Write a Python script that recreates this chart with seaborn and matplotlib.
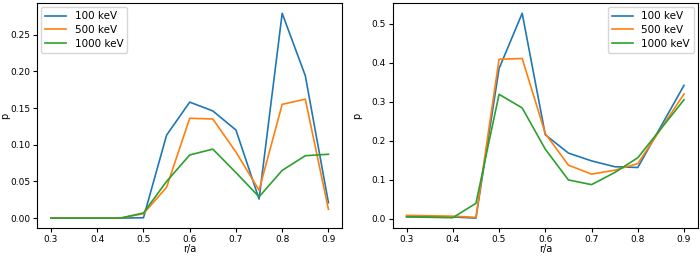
import numpy as np
import pandas as pd
import matplotlib
matplotlib.use('Agg')
import matplotlib.pyplot as plt
import seaborn as sns

energies = ['100 keV', '500 keV', '1000 keV']

# left panel
r_left = [0.3, 0.35, 0.4, 0.45, 0.5, 0.55, 0.6, 0.65, 0.7, 0.75, 0.8, 0.85, 0.9]
p_left_100 = [0.0, 0.0, 0.0, 0.0, 0.0005, 0.113, 0.158, 0.146, 0.120, 0.026, 0.279, 0.194, 0.021]
p_left_500 = [0.0, 0.0, 0.0, 0.0, 0.006, 0.042, 0.136, 0.135, 0.090, 0.038, 0.155, 0.162, 0.012]
p_left_1000 = [0.0, 0.0, 0.0, 0.0, 0.007, 0.050, 0.086, 0.094, 0.062, 0.029, 0.065, 0.085, 0.087]

# right panel
r_right = [0.3, 0.4, 0.45, 0.5, 0.55, 0.6, 0.65, 0.7, 0.75, 0.8, 0.9]
p_right_100 = [0.005, 0.004, 0.001, 0.385, 0.527, 0.215, 0.168, 0.148, 0.133, 0.131, 0.342]
p_right_500 = [0.008, 0.006, 0.003, 0.409, 0.411, 0.218, 0.137, 0.114, 0.124, 0.141, 0.320]
p_right_1000 = [0.004, 0.002, 0.039, 0.319, 0.284, 0.178, 0.099, 0.087, 0.118, 0.156, 0.305]


def to_long(r, series):
    frames = []
    for name, vals in zip(energies, series):
        frames.append(pd.DataFrame({'r/a': r, 'p': vals, 'E': name}))
    return pd.concat(frames, ignore_index=True)


df_left = to_long(r_left, [p_left_100, p_left_500, p_left_1000])
df_right = to_long(r_right, [p_right_100, p_right_500, p_right_1000])

plt.rcParams.update({'font.size': 7})
fig = plt.figure(figsize=(7, 2.56), dpi=100)
ax1 = fig.add_axes([0.053, 0.108, 0.436, 0.880])
ax2 = fig.add_axes([0.561, 0.108, 0.436, 0.880])

sns.lineplot(data=df_left, x='r/a', y='p', hue='E', ax=ax1, linewidth=1.2)
sns.lineplot(data=df_right, x='r/a', y='p', hue='E', ax=ax2, linewidth=1.2)

ax1.legend(loc='upper left', title=None, fontsize=7.5, labelspacing=0.35,
           borderaxespad=0.4)
ax2.legend(loc='upper right', title=None, fontsize=7.5, labelspacing=0.35,
           borderaxespad=0.4)

for ax in (ax1, ax2):
    ax.set_xticks([0.3, 0.4, 0.5, 0.6, 0.7, 0.8, 0.9])
    ax.tick_params(labelsize=6.5, length=3, pad=2)
    ax.set_xlabel('r/a', labelpad=0)
    ax.set_ylabel('p')

ax1.set_yticks([0.0, 0.05, 0.10, 0.15, 0.20, 0.25])
ax1.yaxis.set_label_coords(-0.09, 0.5)
ax2.yaxis.set_label_coords(-0.1, 0.5)

fig.savefig('out.png', dpi=100)
